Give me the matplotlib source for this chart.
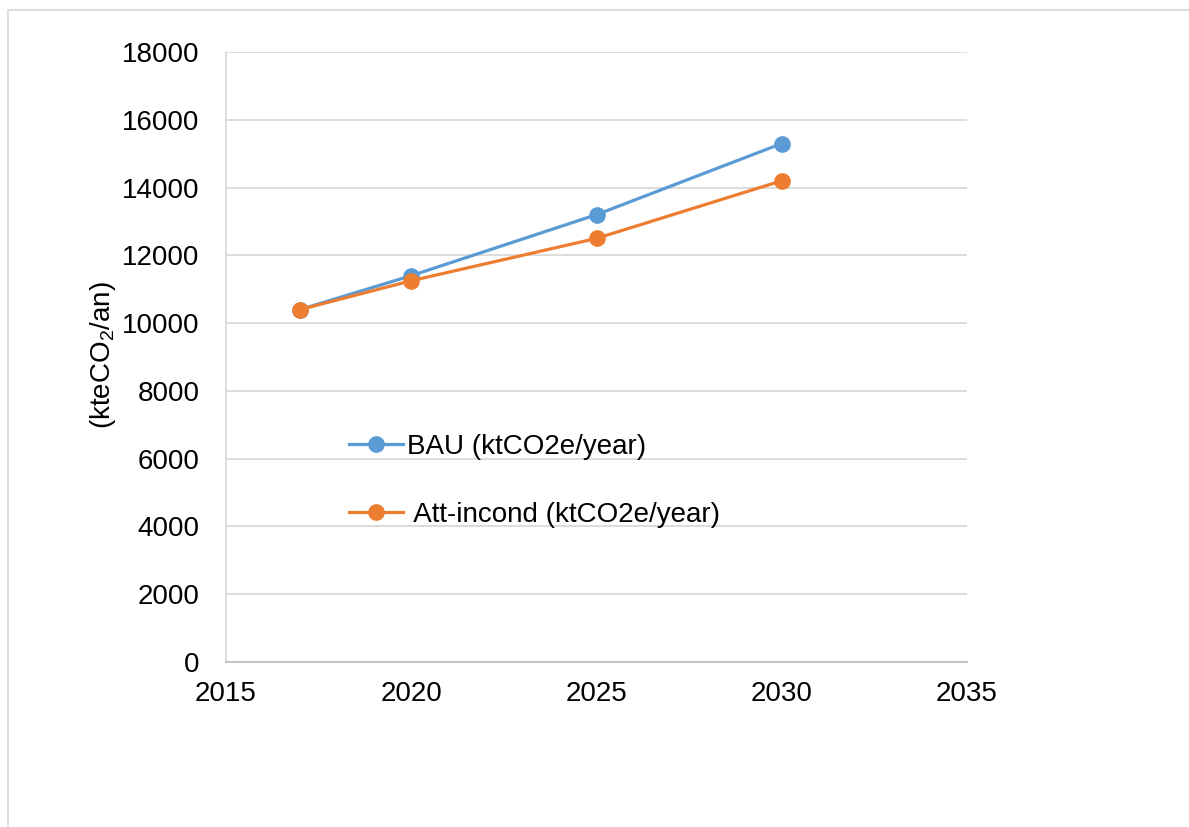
import matplotlib
matplotlib.use("Agg")
import matplotlib.pyplot as plt
from matplotlib.patches import Rectangle

# Emission projections (ktCO2e per year)
years = [2017, 2020, 2025, 2030]
bau = [10400, 11400, 13200, 15300]
att_incond = [10400, 11250, 12500, 14200]
series_labels = ["BAU (ktCO2e/year)", " Att-incond (ktCO2e/year)"]
x_ticks = [2015, 2020, 2025, 2030, 2035]
y_ticks = list(range(0, 18001, 2000))

plt.rcParams["font.family"] = ["Liberation Sans", "DejaVu Sans"]
plt.rcParams["mathtext.fontset"] = "custom"
plt.rcParams["mathtext.rm"] = "Liberation Sans"
plt.rcParams["mathtext.it"] = "Liberation Sans"

W, H = 1189, 827
fig = plt.figure(figsize=(W / 100, H / 100), dpi=100)
ax = fig.add_axes([226 / W, 1 - 662 / H, (967 - 226) / W, (662 - 52) / H])

blue = "#5B9BD5"
orange = "#ED7D31"
ax.plot(years, bau, color=blue, lw=2.3, marker="o", ms=11, label=series_labels[0], zorder=3)
ax.plot(years, att_incond, color=orange, lw=2.3, marker="o", ms=11, label=series_labels[1], zorder=4)

ax.set_xlim(2015, 2035)
ax.set_ylim(0, 18000)
ax.set_xticks(x_ticks)
ax.set_yticks(y_ticks)
ax.tick_params(axis="both", length=0, labelsize=20, colors="black")
ax.tick_params(axis="y", pad=19)
ax.tick_params(axis="x", pad=14)

ax.grid(axis="y", color="#D9D9D9", lw=1.3)
ax.set_axisbelow(True)
for side in ("top", "right"):
    ax.spines[side].set_visible(False)
ax.spines["left"].set_color("#D9D9D9")
ax.spines["left"].set_linewidth(1.3)
ax.spines["bottom"].set_color("#BFBFBF")
ax.spines["bottom"].set_linewidth(1.3)

fig.text(103 / W, 1 - 355 / H, r"(kteCO$_2$/an)", rotation=90,
         ha="center", va="center", fontsize=20)

leg = ax.legend(loc="upper left", bbox_to_anchor=((349 - 226) / (967 - 226), (662 - 434) / 610),
                frameon=False, fontsize=20, handlelength=1.95, handletextpad=0.15,
                labelspacing=1.5, borderpad=0, borderaxespad=0, markerscale=1.0)

# light frame around the figure
fig.patches.append(Rectangle((8 / W, -0.05), 1.2, 1 - 10 / H + 0.05, transform=fig.transFigure,
                             fill=False, edgecolor="#D9D9D9", lw=1.3, figure=fig))

fig.savefig("out.png", dpi=100)
